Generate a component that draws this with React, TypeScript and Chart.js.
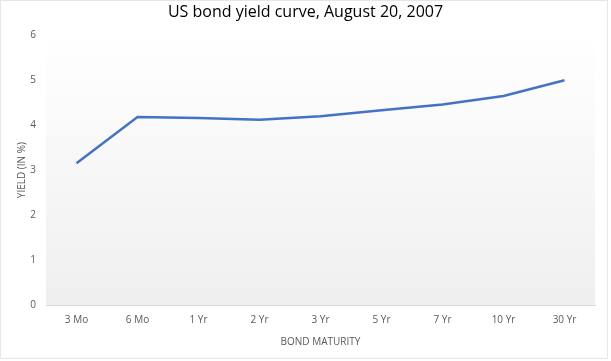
import React, { useEffect, useRef } from "react";
import { Chart, registerables } from "chart.js";

Chart.register(...registerables);

const categories = ["3 Mo", "6 Mo", "1 Yr", "2 Yr", "3 Yr", "5 Yr", "7 Yr", "10 Yr", "30 Yr"];
const yields = [3.15, 4.18, 4.16, 4.12, 4.2, 4.33, 4.46, 4.65, 5.0];
const yTicks = [0, 1, 2, 3, 4, 5, 6];

const FONT = "'Open Sans', 'Liberation Sans', sans-serif";

const bgPlugin = {
  id: "bgGrad",
  beforeDraw(chart: any) {
    const { ctx, chartArea, width, height } = chart;
    ctx.save();
    ctx.fillStyle = "#ffffff";
    ctx.fillRect(0, 0, width, height);
    ctx.strokeStyle = "#e6e6e6";
    ctx.lineWidth = 1;
    ctx.strokeRect(0.5, 0.5, width - 4, height - 3);
    const g = ctx.createLinearGradient(0, chartArea.top, 0, chartArea.bottom);
    g.addColorStop(0, "#ffffff");
    g.addColorStop(1, "#efefef");
    ctx.fillStyle = g;
    ctx.fillRect(chartArea.left, chartArea.top, chartArea.right - chartArea.left, chartArea.bottom - chartArea.top);
    ctx.restore();
  },
};

export default function App() {
  const ref = useRef<HTMLCanvasElement>(null);
  useEffect(() => {
    document.body.style.margin = "0";
    const chart = new Chart(ref.current!, {
      type: "line",
      data: {
        labels: categories,
        datasets: [
          {
            data: yields,
            borderColor: "#4472c4",
            borderWidth: 2.5,
            pointRadius: 0,
            tension: 0,
            fill: false,
          },
        ],
      },
      options: {
        animation: false,
        responsive: false,
        layout: { padding: { left: 16, right: 16, top: 0, bottom: 13 } },
        plugins: {
          legend: { display: false },
          tooltip: { enabled: false },
          title: {
            display: true,
            text: "US bond yield curve, August 20, 2007",
            color: "#000000",
            font: { family: FONT, size: 16, weight: "normal" },
            padding: { top: 3, bottom: 13 },
          },
        },
        scales: {
          x: {
            offset: true,
            grid: { display: false, drawTicks: false, offset: true },
            border: { color: "#d9d9d9", width: 1 },
            ticks: { color: "#595959", font: { family: FONT, size: 10 }, padding: 9 },
            title: {
              display: true,
              text: "BOND MATURITY",
              color: "#595959",
              font: { family: FONT, size: 10 },
              padding: { top: 4, bottom: 0 },
            },
            afterFit: (axis: any) => {
              axis.height = 43;
            },
          },
          y: {
            min: 0,
            max: 6,
            afterBuildTicks: (axis: any) => {
              axis.ticks = yTicks.map((v) => ({ value: v }));
            },
            grid: { display: false, drawTicks: false },
            border: { display: false },
            ticks: { color: "#595959", font: { family: FONT, size: 10 }, padding: 10 },
            title: {
              display: true,
              text: "YIELD (IN %)",
              color: "#595959",
              font: { family: FONT, size: 10 },
              padding: { top: 0, bottom: 6 },
            },
            afterFit: (axis: any) => {
              axis.width = 30;
            },
          },
        },
      },
      plugins: [bgPlugin],
    });
    return () => chart.destroy();
  }, []);
  return <canvas ref={ref} width={611} height={361} style={{ display: "block" }} />;
}
